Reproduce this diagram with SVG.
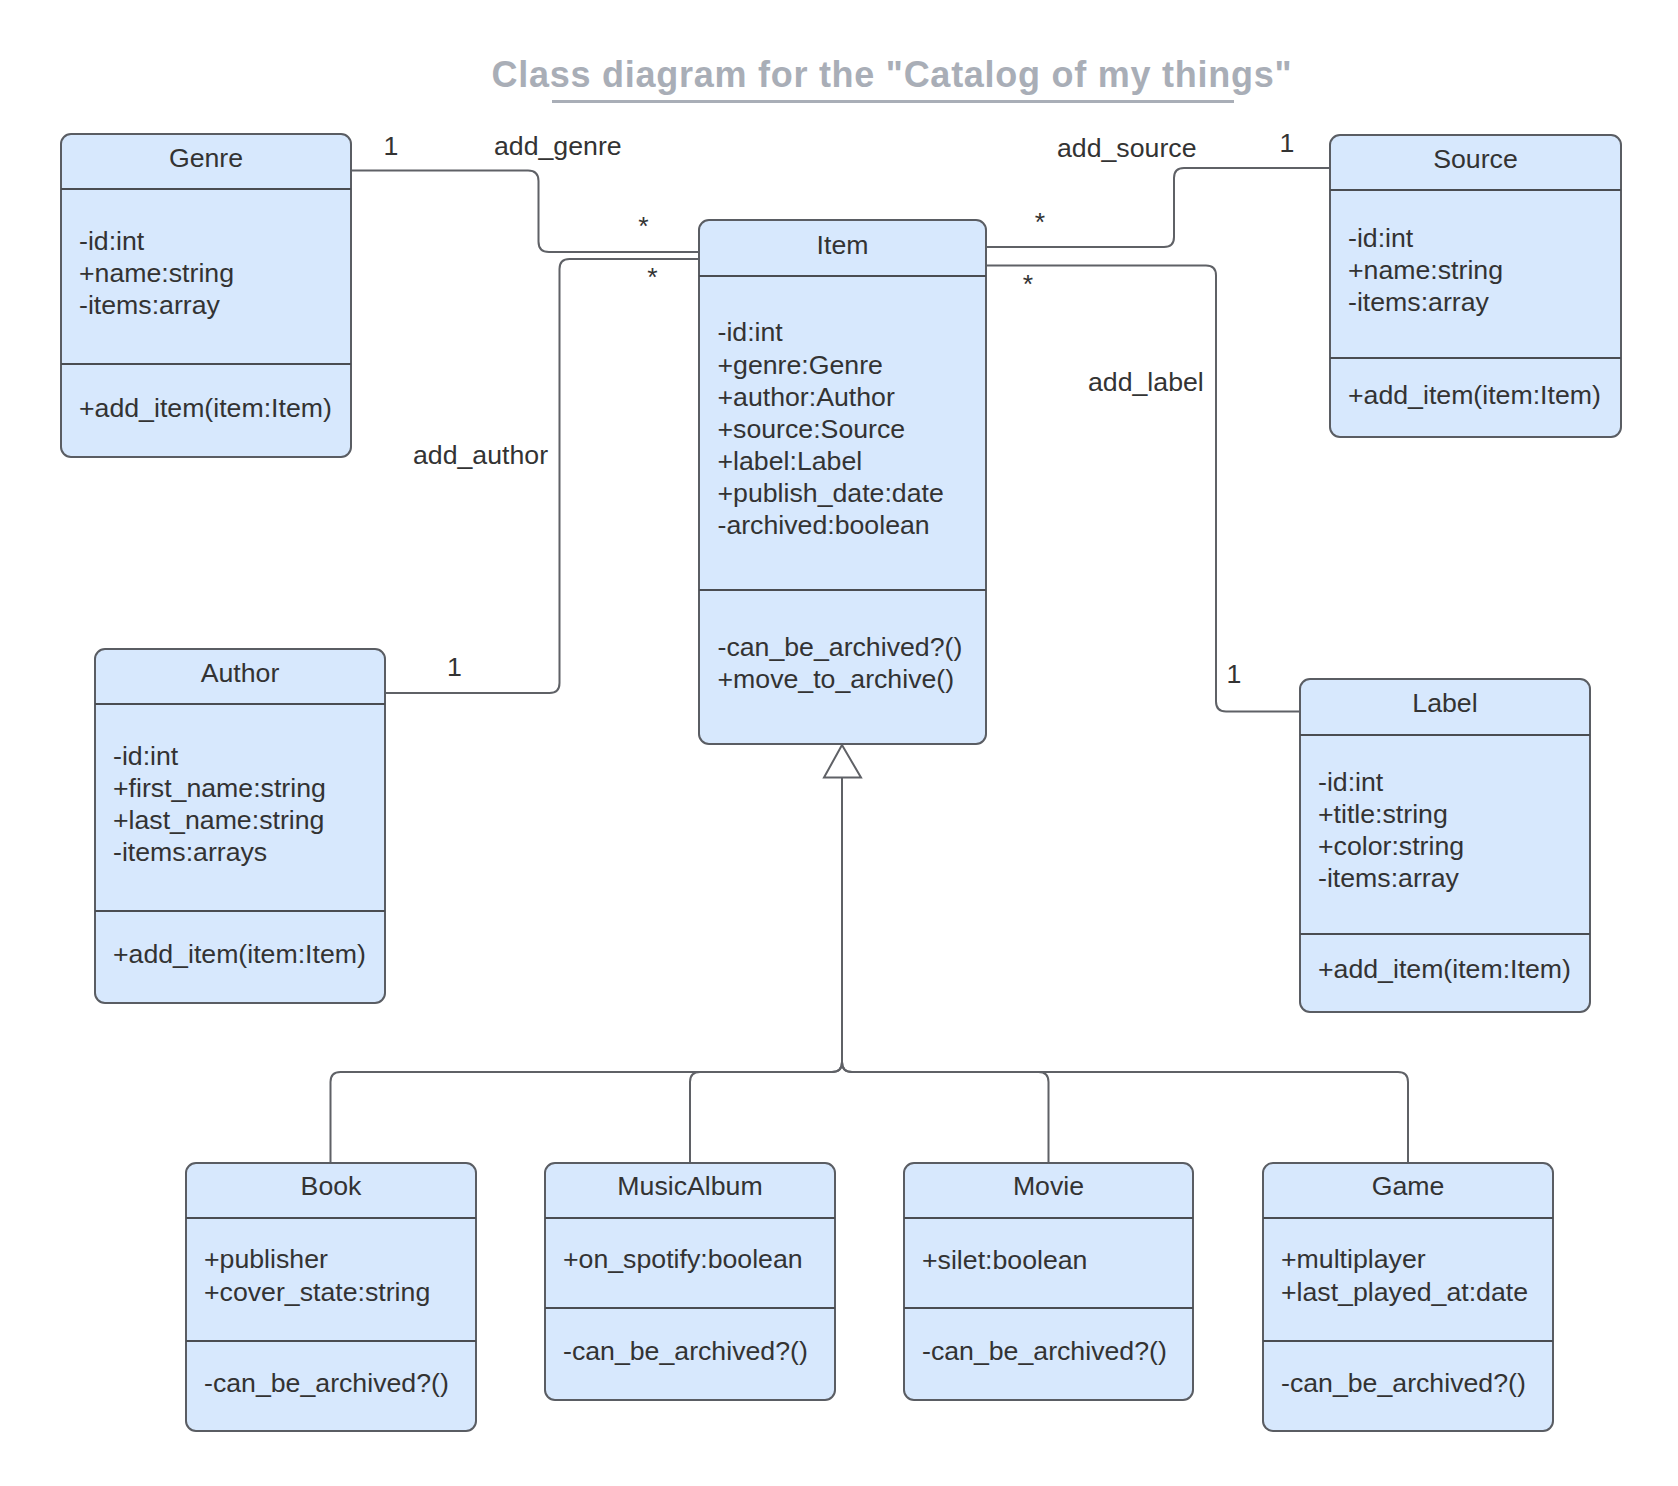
<svg xmlns="http://www.w3.org/2000/svg" width="1678" height="1486" viewBox="0 0 1678 1486">
<style>
.box{fill:#d7e8fd;stroke:#5a5d63;stroke-width:2}
.sep{stroke:#4a4d52;stroke-width:2}
.t{font-family:"Liberation Sans",Arial,sans-serif;font-size:26.7px;fill:#333333}
.c{text-anchor:middle}
.con{fill:none;stroke:#5f6166;stroke-width:2}
.title{font-family:"Liberation Sans",Arial,sans-serif;font-size:36px;font-weight:bold;fill:#a9aeb7;text-anchor:middle}
</style>
<rect width="1678" height="1486" fill="#ffffff"/>
<g id="title">
<text class="title" x="891.5" y="86.5" textLength="800" lengthAdjust="spacing">Class diagram for the "Catalog of my things"</text>
<line x1="552" y1="101.5" x2="1234" y2="101.5" stroke="#a9aeb7" stroke-width="3"/>
</g>
<g id="connectors">
<path class="con" d="M351,170.5 H528 Q538.5,170.5 538.5,181 V241.5 Q538.5,252 549,252 H699"/>
<path class="con" d="M385,693 H549.5 Q559.5,693 559.5,683 V269 Q559.5,259 569.5,259 H699"/>
<path class="con" d="M986,247 H1164 Q1174,247 1174,237 V178 Q1174,168 1184,168 H1330"/>
<path class="con" d="M986,265.5 H1206 Q1216,265.5 1216,275.5 V701.5 Q1216,711.5 1226,711.5 H1300"/>
<path class="con" d="M842,777.5 V1062 Q842,1072 832,1072 H340.5 Q330.5,1072 330.5,1082 V1163"/>
<path class="con" d="M842,777.5 V1062 Q842,1072 832,1072 H700 Q690,1072 690,1082 V1163"/>
<path class="con" d="M842,777.5 V1062 Q842,1072 852,1072 H1038.5 Q1048.5,1072 1048.5,1082 V1163"/>
<path class="con" d="M842,777.5 V1062 Q842,1072 852,1072 H1398 Q1408,1072 1408,1082 V1163"/>
<polygon points="842,745 824,777.5 861,777.5" fill="#ffffff" stroke="#5f6166" stroke-width="2"/>
<text class="t c" x="391" y="155">1</text>
<text class="t" x="494" y="155">add_genre</text>
<text class="t c" x="643.5" y="235">*</text>
<text class="t c" x="652.5" y="285.5">*</text>
<text class="t" x="413" y="464">add_author</text>
<text class="t c" x="454.5" y="676">1</text>
<text class="t" x="1057" y="157">add_source</text>
<text class="t c" x="1287" y="152">1</text>
<text class="t c" x="1040" y="230.5">*</text>
<text class="t c" x="1028" y="292.5">*</text>
<text class="t" x="1088" y="391">add_label</text>
<text class="t c" x="1234" y="683">1</text>
</g>
<g id="Genre">
<rect class="box" x="61" y="134" width="290" height="323" rx="10"/>
<line class="sep" x1="61" y1="189" x2="351" y2="189"/>
<line class="sep" x1="61" y1="364" x2="351" y2="364"/>
<text class="t c" x="206" y="167">Genre</text>
<text class="t" x="79" y="249.5">-id:int</text>
<text class="t" x="79" y="281.5">+name:string</text>
<text class="t" x="79" y="313.5">-items:array</text>
<text class="t" x="79" y="416.5">+add_item(item:Item)</text>
</g>
<g id="Source">
<rect class="box" x="1330" y="135" width="291" height="302" rx="10"/>
<line class="sep" x1="1330" y1="190" x2="1621" y2="190"/>
<line class="sep" x1="1330" y1="358" x2="1621" y2="358"/>
<text class="t c" x="1475.5" y="168">Source</text>
<text class="t" x="1348" y="246.5">-id:int</text>
<text class="t" x="1348" y="278.5">+name:string</text>
<text class="t" x="1348" y="310.5">-items:array</text>
<text class="t" x="1348" y="403.5">+add_item(item:Item)</text>
</g>
<g id="Item">
<rect class="box" x="699" y="220" width="287" height="524" rx="10"/>
<line class="sep" x1="699" y1="276" x2="986" y2="276"/>
<line class="sep" x1="699" y1="590" x2="986" y2="590"/>
<text class="t c" x="842.5" y="254">Item</text>
<text class="t" x="717.5" y="341">-id:int</text>
<text class="t" x="717.5" y="373.5">+genre:Genre</text>
<text class="t" x="717.5" y="405.5">+author:Author</text>
<text class="t" x="717.5" y="437.5">+source:Source</text>
<text class="t" x="717.5" y="469.5">+label:Label</text>
<text class="t" x="717.5" y="502">+publish_date:date</text>
<text class="t" x="717.5" y="534">-archived:boolean</text>
<text class="t" x="717.5" y="655.5">-can_be_archived?()</text>
<text class="t" x="717.5" y="687.5">+move_to_archive()</text>
</g>
<g id="Author">
<rect class="box" x="95" y="649" width="290" height="354" rx="10"/>
<line class="sep" x1="95" y1="704" x2="385" y2="704"/>
<line class="sep" x1="95" y1="911" x2="385" y2="911"/>
<text class="t c" x="240" y="681.5">Author</text>
<text class="t" x="113" y="764.5">-id:int</text>
<text class="t" x="113" y="796.5">+first_name:string</text>
<text class="t" x="113" y="828.5">+last_name:string</text>
<text class="t" x="113" y="860.5">-items:arrays</text>
<text class="t" x="113" y="963">+add_item(item:Item)</text>
</g>
<g id="Label">
<rect class="box" x="1300" y="679" width="290" height="333" rx="10"/>
<line class="sep" x1="1300" y1="735" x2="1590" y2="735"/>
<line class="sep" x1="1300" y1="934" x2="1590" y2="934"/>
<text class="t c" x="1445" y="711.5">Label</text>
<text class="t" x="1318" y="790.5">-id:int</text>
<text class="t" x="1318" y="823">+title:string</text>
<text class="t" x="1318" y="854.5">+color:string</text>
<text class="t" x="1318" y="887">-items:array</text>
<text class="t" x="1318" y="978">+add_item(item:Item)</text>
</g>
<g id="Book">
<rect class="box" x="186" y="1163" width="290" height="268" rx="10"/>
<line class="sep" x1="186" y1="1218" x2="476" y2="1218"/>
<line class="sep" x1="186" y1="1341" x2="476" y2="1341"/>
<text class="t c" x="331" y="1195">Book</text>
<text class="t" x="204" y="1268">+publisher</text>
<text class="t" x="204" y="1300.5">+cover_state:string</text>
<text class="t" x="204" y="1392">-can_be_archived?()</text>
</g>
<g id="MusicAlbum">
<rect class="box" x="545" y="1163" width="290" height="237" rx="10"/>
<line class="sep" x1="545" y1="1218" x2="835" y2="1218"/>
<line class="sep" x1="545" y1="1308" x2="835" y2="1308"/>
<text class="t c" x="690" y="1195">MusicAlbum</text>
<text class="t" x="563" y="1268">+on_spotify:boolean</text>
<text class="t" x="563" y="1359.5">-can_be_archived?()</text>
</g>
<g id="Movie">
<rect class="box" x="904" y="1163" width="289" height="237" rx="10"/>
<line class="sep" x1="904" y1="1218" x2="1193" y2="1218"/>
<line class="sep" x1="904" y1="1308" x2="1193" y2="1308"/>
<text class="t c" x="1048.5" y="1195">Movie</text>
<text class="t" x="922" y="1268.5">+silet:boolean</text>
<text class="t" x="922" y="1359.5">-can_be_archived?()</text>
</g>
<g id="Game">
<rect class="box" x="1263" y="1163" width="290" height="268" rx="10"/>
<line class="sep" x1="1263" y1="1218" x2="1553" y2="1218"/>
<line class="sep" x1="1263" y1="1341" x2="1553" y2="1341"/>
<text class="t c" x="1408" y="1195">Game</text>
<text class="t" x="1281" y="1268">+multiplayer</text>
<text class="t" x="1281" y="1300.5">+last_played_at:date</text>
<text class="t" x="1281" y="1392">-can_be_archived?()</text>
</g>
</svg>
